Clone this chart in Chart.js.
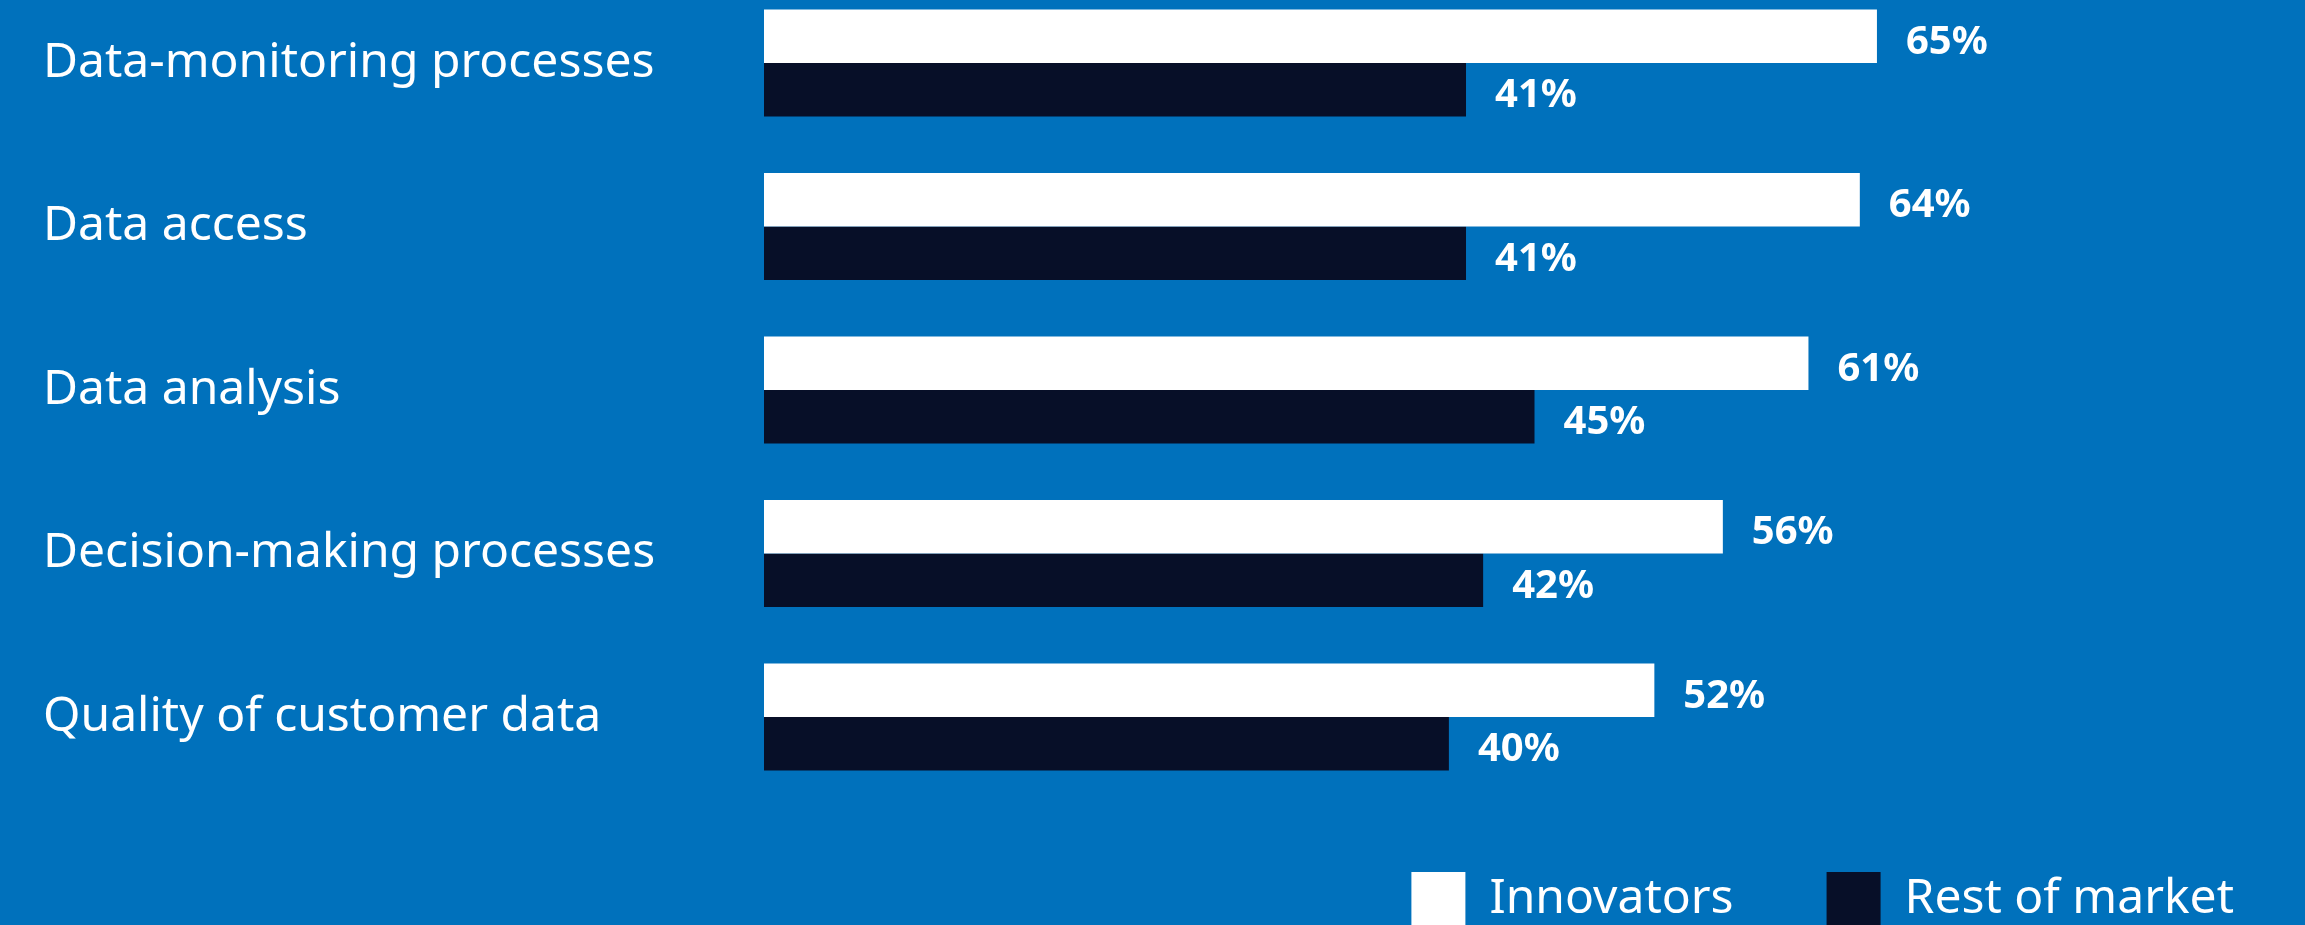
<!DOCTYPE html>
<html lang="en">
<head>
<meta charset="utf-8">
<title>Innovators vs rest of market</title>
<script src="https://cdn.jsdelivr.net/npm/chart.js@4"></script>
<style>
  html, body {
    margin: 0;
    padding: 0;
    overflow: hidden;
    background: #0071bc;
  }
  canvas {
    display: block;
  }
</style>
</head>
<body>
<canvas id="myChart" width="2305" height="936"></canvas>
<script>
'use strict';

// chart data
let categories = [
  'Data-monitoring processes',
  'Data access',
  'Data analysis',
  'Decision-making processes',
  'Quality of customer data'
];
let seriesNames = ['Innovators', 'Rest of market'];
let innovators = [65, 64, 61, 56, 52];
let restOfMarket = [41, 41, 45, 42, 40];

let fontFamily = '"Noto Sans", "Open Sans", sans-serif';

// writes the percentage just past the end of every bar
let valueLabels = {
  id: 'valueLabels',
  afterDatasetsDraw(chart) {
    let ctx = chart.ctx;
    ctx.save();
    ctx.fillStyle = '#ffffff';
    ctx.font = 'bold 40px ' + fontFamily;
    ctx.textAlign = 'left';
    ctx.textBaseline = 'middle';
    chart.data.datasets.forEach(function (dataset, d) {
      let meta = chart.getDatasetMeta(d);
      meta.data.forEach(function (bar, i) {
        ctx.fillText(dataset.data[i] + '%', bar.x + 29, bar.y + 6);
      });
    });
    ctx.restore();
  }
};

function renderChart() {
  let chartObject = {
    type: 'bar',
    data: {
      labels: categories,
      datasets: [{
        label: seriesNames[0],
        data: innovators,
        backgroundColor: '#ffffff',
        borderWidth: 0,
        clip: false
      },
      {
        label: seriesNames[1],
        data: restOfMarket,
        backgroundColor: '#070f28',
        borderWidth: 0,
        clip: false
      }
      ]
    },
    options: {
      indexAxis: 'y',
      responsive: false,
      animation: false,
      datasets: {
        bar: {
          barPercentage: 1,
          categoryPercentage: 0.655
        }
      },
      layout: {
        padding: { left: 43, top: 63, right: -22, bottom: 0 }
      },
      scales: {
        x: {
          min: 0,
          max: 90,
          grid: { display: false },
          border: { display: false },
          ticks: { display: false },
          // keeps a gap between the last bar group and the legend
          afterFit: function (scale) {
            scale.height = 62;
          }
        },
        y: {
          offset: false,
          grid: { display: false },
          border: { display: false },
          ticks: {
            color: '#ffffff',
            crossAlign: 'far',
            padding: 0,
            font: { family: fontFamily, size: 48 }
          },
          afterFit: function (scale) {
            scale.width = 721;
          }
        }
      },
      plugins: {
        legend: {
          position: 'bottom',
          align: 'end',
          labels: {
            boxWidth: 54,
            boxHeight: 54,
            padding: 93,
            color: '#ffffff',
            font: { family: fontFamily, size: 48 }
          }
        },
        tooltip: { enabled: false }
      }
    },
    plugins: [valueLabels]
  };
  let ctx = document.getElementById('myChart').getContext('2d');
  let myChart = new Chart(ctx, chartObject);
}

renderChart();
</script>
</body>
</html>
